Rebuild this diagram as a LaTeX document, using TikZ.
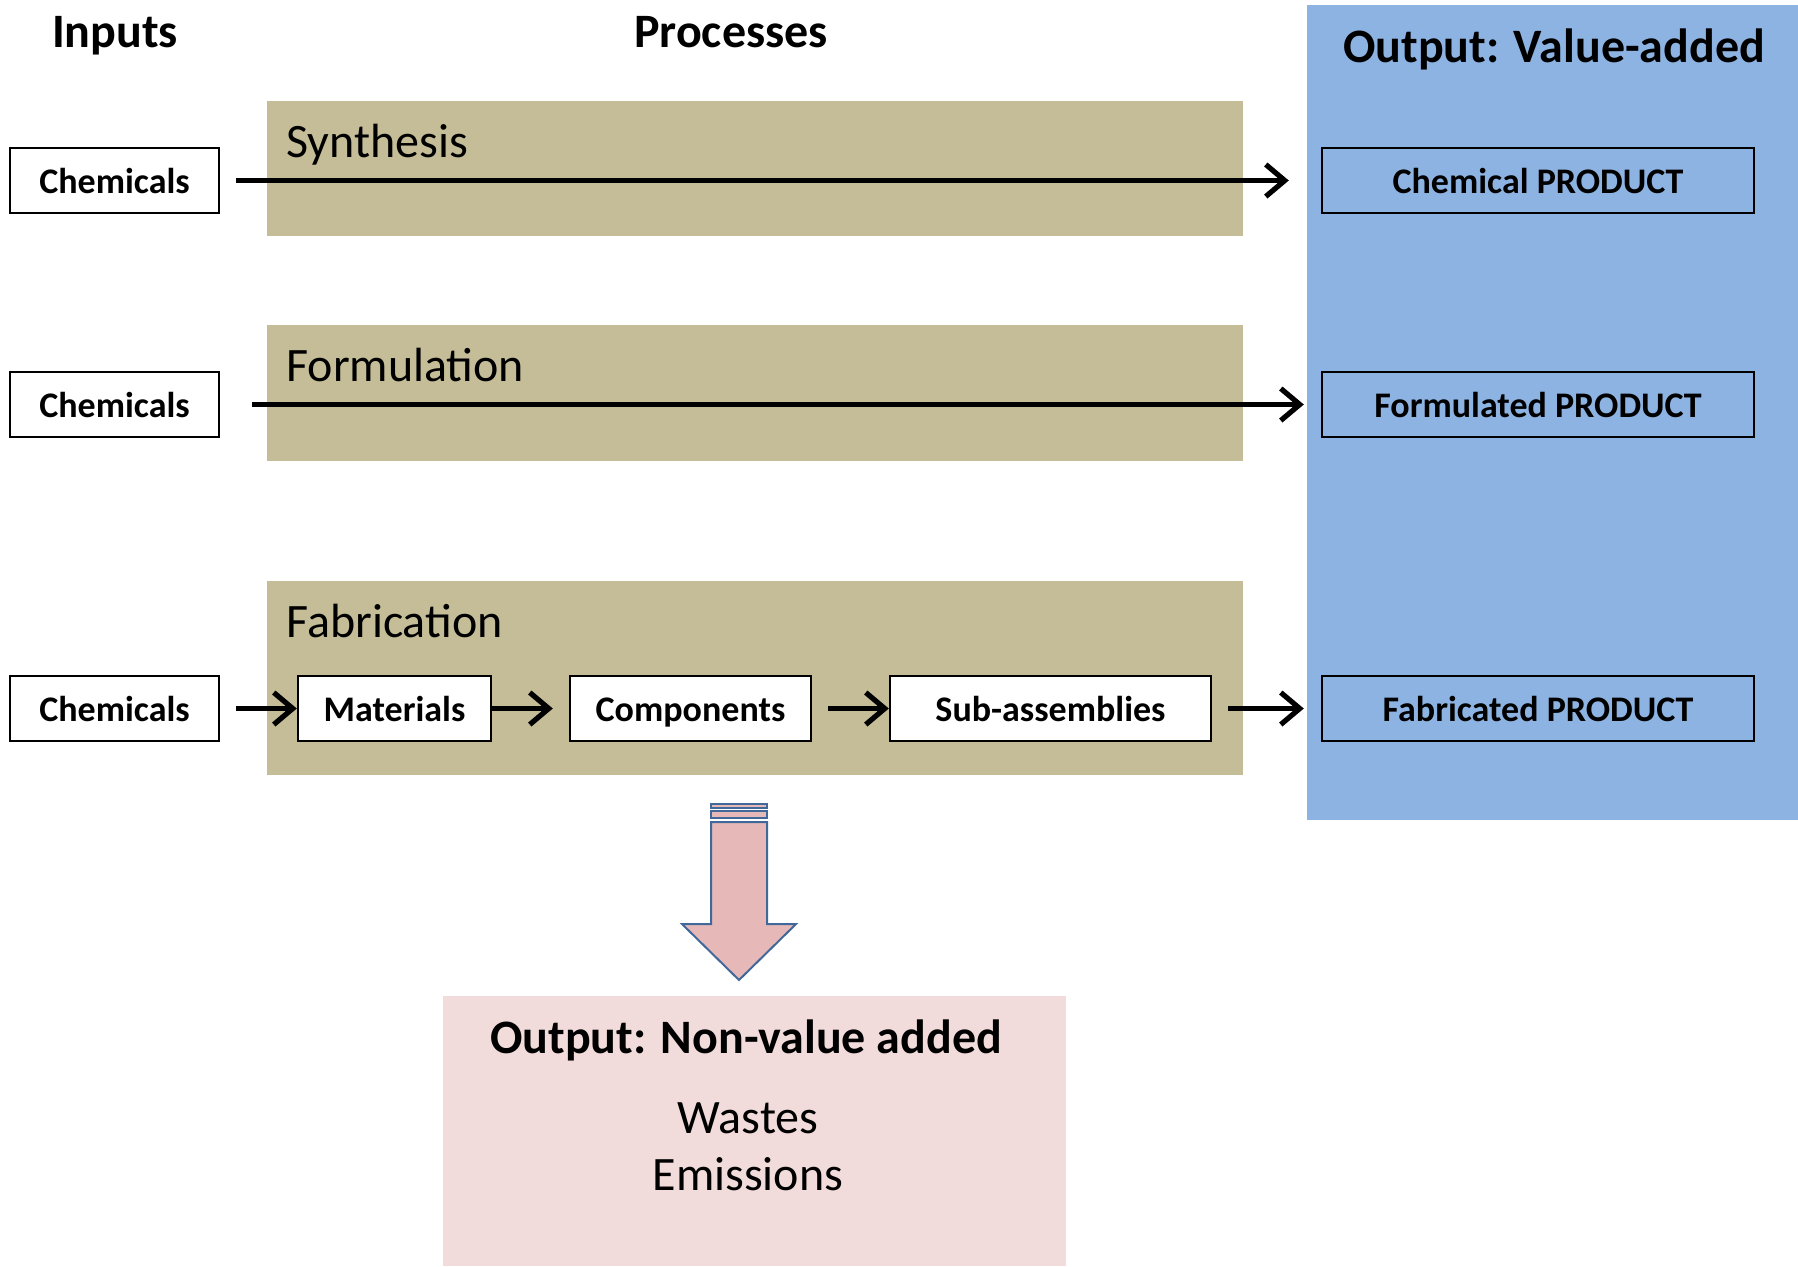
\documentclass[tikz,border=0pt]{standalone}
\usepackage{fontspec}
\setmainfont{Carlito}
\usetikzlibrary{arrows.meta}
\definecolor{bandtan}{HTML}{C4BD97}
\definecolor{outblue}{HTML}{8DB3E2}
\definecolor{wastepink}{HTML}{F2DCDB}
\definecolor{arrowpink}{HTML}{E6B9B8}
\definecolor{arrowedge}{HTML}{41689A}
\tikzset{
  boxnode/.style={draw=black, line width=1.2pt, minimum height=32.5pt, inner sep=0pt,
    text height=16.4pt, text depth=3pt,
    font=\fontsize{18}{22}\selectfont\bfseries},
  inbox/.style={boxnode, fill=white},
  prodbox/.style={boxnode, fill=none},
  band/.style={fill=bandtan, draw=none, inner sep=0pt},
  bandtitle/.style={anchor=base west, inner sep=0pt, font=\fontsize{24}{28}\selectfont},
  coltitle/.style={anchor=base, inner sep=0pt, font=\fontsize{24}{28}\selectfont\bfseries},
  flow/.style={line width=2.6pt, -{Straight Barb[length=9.5pt, width=16pt, line width=2.6pt]}},
}
\begin{document}
\begin{tikzpicture}[x=0.5pt,y=-0.5pt]
\useasboundingbox (0,0) rectangle (1798,1266);
% output column background
\node[fill=outblue, inner sep=0pt, minimum width=245.5pt, minimum height=407.5pt] (outcol) at (1552.5,412.5) {};
% process bands
\node[band, minimum width=488pt, minimum height=67.5pt] (band1) at (755,168.5) {};
\node[band, minimum width=488pt, minimum height=68pt] (band2) at (755,393) {};
\node[band, minimum width=488pt, minimum height=97pt] (band3) at (755,678) {};
% column titles
\node[coltitle] (tin) at (115,47) {Inputs};
\node[coltitle] (tproc) at (731,47) {Processes};
\node[coltitle] (tout) at (1554,62) {Output: Value-added};
% band titles
\node[bandtitle] (syn) at (286,157) {Synthesis};
\node[bandtitle] (form) at (286,381) {Formulation};
\node[bandtitle] (fab) at (286,637) {Fabrication};
% inputs
\node[inbox, minimum width=104.5pt] (c1) at (114.5,180.5) {Chemicals};
\node[inbox, minimum width=104.5pt] (c2) at (114.5,404.5) {Chemicals};
\node[inbox, minimum width=104.5pt] (c3) at (114.5,708.5) {Chemicals};
% products
\node[prodbox, minimum width=216pt] (p1) at (1538,180.5) {Chemical PRODUCT};
\node[prodbox, minimum width=216pt] (p2) at (1538,404.5) {Formulated PRODUCT};
\node[prodbox, minimum width=216pt] (p3) at (1538,708.5) {Fabricated PRODUCT};
% fabrication steps
\node[inbox, minimum width=96.5pt] (mat) at (394.5,708.5) {Materials};
\node[inbox, minimum width=120.5pt] (comp) at (690.5,708.5) {Components};
\node[inbox, minimum width=160.5pt] (sub) at (1050.5,708.5) {Sub-assemblies};
% flows
\draw[flow] ([xshift=8pt]c1.east) -- ([xshift=-16pt]p1.west);
\draw[flow] ([xshift=16pt]c2.east) -- ([xshift=-8.5pt]p2.west);
\draw[flow] ([xshift=8pt]c3.east) -- (mat.west);
\draw[flow] (mat.east) -- ([xshift=-8pt]comp.west);
\draw[flow] ([xshift=8pt]comp.east) -- (sub.west);
\draw[flow] ([xshift=8pt]sub.east) -- ([xshift=-8.5pt]p3.west);
% down arrow to wastes
\begin{scope}[draw=arrowedge, fill=arrowpink, line width=1pt]
\filldraw (711,804) rectangle (767,808);
\filldraw (711,811) rectangle (767,818);
\filldraw (711,822) -- (767,822) -- (767,924) -- (796,924) -- (739,980) -- (682,924) -- (711,924) -- cycle;
\end{scope}
% non-value added output
\node[fill=wastepink, inner sep=0pt, minimum width=311.5pt, minimum height=135pt] (waste) at (754.5,1131) {};
\node[coltitle] (wtitle) at (746,1053) {Output: Non-value added};
\node[anchor=base, inner sep=0pt, font=\fontsize{24}{28}\selectfont] (w1) at (748,1133) {Wastes};
\node[anchor=base, inner sep=0pt, font=\fontsize{24}{28}\selectfont] (w2) at (748,1190) {Emissions};
\end{tikzpicture}
\end{document}
